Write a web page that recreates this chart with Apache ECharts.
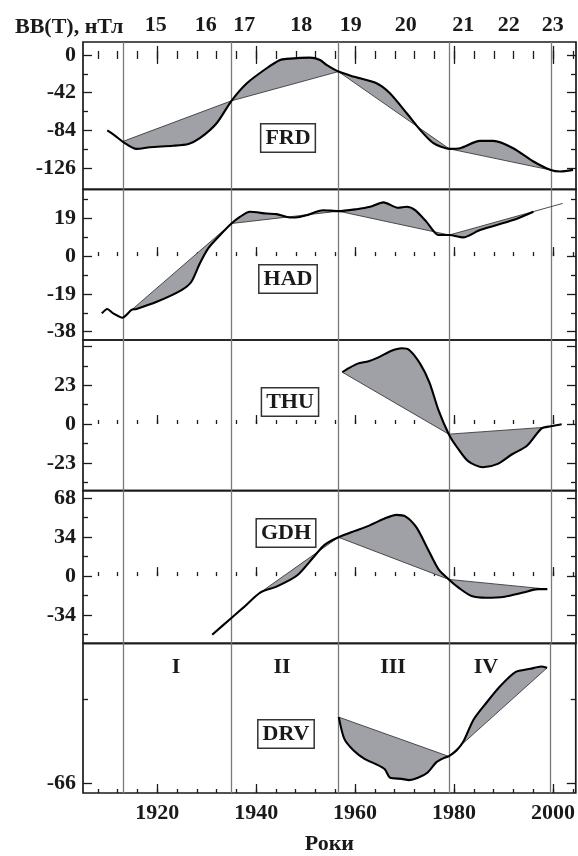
<!DOCTYPE html>
<html>
<head>
<meta charset="utf-8">
<script src="https://cdn.jsdelivr.net/npm/echarts@6/dist/echarts.min.js"></script>
<style>
html, body { margin: 0; padding: 0; background: #fff; }
#chart { width: 578px; height: 856px; }
</style>
</head>
<body>
<div id="chart"></div>
<script>
// boundaries between pairs of solar cycles (vertical lines)
const boundaryYears = [1913.1, 1935, 1956.6, 1979, 1999.5]
// solar cycle numbers on the top axis and where they sit
const cycleNumbers = [15, 16, 17, 18, 19, 20, 21, 22, 23]
const cycleYears = [1919.7, 1929.8, 1937.6, 1949.1, 1959.1, 1970.2, 1981.8, 1991.0, 1999.9]
const decadeTicks = [1920, 1940, 1960, 1980, 2000]
const yearTicks = [1908, 1912, 1916, 1920, 1924, 1928, 1932, 1936, 1940, 1944, 1948, 1952, 1956,
    1960, 1964, 1968, 1972, 1976, 1980, 1984, 1988, 1992, 1996, 2000, 2004]
const romanLabels = ['I', 'II', 'III', 'IV']

// FRD
const frdCurve = [[1909.9, -84], [1911.5, -90], [1913, -96.3], [1915.8, -104.4], [1918.5, -102.6],
    [1923.2, -101], [1926.3, -98.9], [1928.6, -92.6], [1932, -75.9], [1935, -51], [1938.1, -31.5],
    [1942.1, -14.8], [1944.8, -5.6], [1946.1, -4.4], [1950.8, -3], [1952.9, -5.6], [1954.2, -11.1],
    [1956.6, -18.5], [1959.6, -24], [1964.3, -31.5], [1967, -42.6], [1970.4, -64.8], [1973.1, -83.3],
    [1975.8, -98.1], [1979, -104.4], [1981.2, -103.7], [1985.2, -95.6], [1987.9, -95.6],
    [1991.9, -103.7], [1996, -118.5], [1999.5, -128], [2001.4, -129.6], [2004, -127.8]]
const frdChord = [[1913, -96.3], [1935, -51], [1956.6, -18.5], [1979, -104.4], [1999.5, -128]]
const frdMajor = [0, -42, -84, -126]
const frdMinor = [-21, -63, -105]

// HAD
const hadCurve = [[1908.8, -28.8], [1909.9, -26.6], [1911.1, -28.8], [1913, -31], [1914.8, -27.1],
    [1915.8, -26.6], [1919.9, -23], [1924.9, -17.1], [1926.9, -12.9], [1928.6, -3.7], [1930.3, 3.9],
    [1932.7, 10.6], [1935, 16.4], [1936.7, 19.7], [1938.7, 22.3], [1942.1, 21.4], [1944.1, 21.1],
    [1946.8, 19.4], [1948.8, 19.7], [1950.2, 20.6], [1953.5, 23.1], [1956.6, 22.6], [1960.3, 23.6],
    [1963, 24.8], [1965.7, 27], [1968.7, 24.3], [1970.4, 24.8], [1972.1, 23.1], [1974.4, 17.2],
    [1976.8, 10.6], [1979, 10.6], [1981.8, 9.4], [1985.2, 13.1], [1991.9, 18.1], [1996, 22.3]]
const hadChord = [[1913, -31], [1935, 16.4], [1956.6, 22.6], [1979, 10.6], [2001.9, 26.5]]
const hadMajor = [19, 0, -19, -38]
const hadMinor = [28.5, 9.5, -9.5, -28.5]

// THU
const thuCurve = [[1957.4, 30.7], [1958.7, 33.1], [1960.5, 35.8], [1962.7, 37.2], [1964.9, 39.8],
    [1967.2, 43.3], [1969.4, 44.9], [1970.9, 43.9], [1973.1, 35.8], [1975, 24.6], [1976.8, 8.4],
    [1978.9, -6], [1980.6, -13.9], [1982.8, -22], [1985.8, -25.6], [1988.8, -23.6], [1991.7, -17.9],
    [1994.7, -12.9], [1997.6, -2.7], [1999.5, -1.3], [2001.7, -0.1]]
const thuChord = [[1957.4, 30.7], [1978.9, -6], [1998, -2]]
const thuMajor = [46, 23, 0, -23]
const thuLabels = [23, 0, -23]
const thuMinor = [34.5, 11.5, -11.5, -34.5]

// GDH
const gdhCurve = [[1931.1, -51.2], [1935.1, -36.1], [1937.5, -27.1], [1940.8, -14.4], [1944.2, -9],
    [1948.3, 0.7], [1951.6, 16.7], [1953.8, 27.3], [1956.6, 33.9], [1959.8, 39.3], [1962.7, 43.9],
    [1965.7, 49.9], [1968.3, 53.5], [1970.2, 52], [1972.4, 42.3], [1974.6, 24.2], [1976.8, 6.1],
    [1978.9, -2.9], [1981, -10.5], [1983.5, -17.4], [1986.5, -18.9], [1990.2, -18], [1993.9, -14.4],
    [1996.9, -11.4], [1998.8, -11.4]]
const gdhChord = [[1940.8, -14.4], [1956.6, 33.9], [1978.9, -2.9], [1998.8, -11.4]]
const gdhMajor = [68, 34, 0, -34]
const gdhMinor = [51, 17, -17, -51]

// DRV
const drvCurve = [[1956.7, -40], [1957.8, -48.5], [1959.7, -53.2], [1961.9, -56.5], [1964.2, -58.6],
    [1966, -60.6], [1967.1, -64], [1969.4, -64.4], [1970.9, -64.9], [1972.7, -64], [1974.6, -62],
    [1976.4, -57.9], [1977.9, -56.2], [1978.9, -55.5], [1980.5, -53.2], [1982, -49.2], [1983.9, -41.1],
    [1986.5, -34.4], [1989.4, -27.6], [1992.4, -22.2], [1995.4, -20.9], [1997.6, -20], [1998.8, -20.5]]
const drvChord = [[1956.7, -40], [1978.9, -55.5], [1998.8, -20.5]]
const drvMajor = [-66]
const drvMinor = [-33]

const panels = [
    { name: 'FRD', curve: frdCurve, chord: frdChord, major: frdMajor, labels: frdMajor, minor: frdMinor, min: -149.4, max: 14.4 },
    { name: 'HAD', curve: hadCurve, chord: hadChord, major: hadMajor, labels: hadMajor, minor: hadMinor, min: -42.2, max: 33.6 },
    { name: 'THU', curve: thuCurve, chord: thuChord, major: thuMajor, labels: thuLabels, minor: thuMinor, min: -39.5, max: 49.8 },
    { name: 'GDH', curve: gdhCurve, chord: gdhChord, major: gdhMajor, labels: gdhMajor, minor: gdhMinor, min: -58.7, max: 74.6 },
    { name: 'DRV', curve: drvCurve, chord: drvChord, major: drvMajor, labels: drvMajor, minor: drvMinor, min: -70, max: -10.8 }
]

// layout
const edges = [42, 189.3, 340, 490.7, 643.3, 793]
const boxCenters = [[288, 138], [288, 279], [290, 402], [286, 533], [286, 734]]
const romanX = [176, 282, 393, 486]
const X_MIN = 1905, X_MAX = 2004.6
const FONT = 'Liberation Serif'
const INK = '#1a1a1a'

const chart = echarts.init(document.getElementById('chart'), null, { renderer: 'canvas' })

const grids = [], xAxes = [], yAxes = [], series = []

function xAxisDef(i, position, ticks, len, labelOpt) {
    return {
        type: 'value', gridIndex: i, position: position, min: X_MIN, max: X_MAX,
        axisLine: { show: false }, splitLine: { show: false },
        axisTick: { show: len > 0, inside: true, length: len, customValues: ticks,
            lineStyle: { color: INK, width: 1.3 } },
        axisLabel: labelOpt || { show: false, customValues: ticks }
    }
}

function yAxisDef(i, p, position, ticks, len, showLabels) {
    return {
        type: 'value', gridIndex: i, position: position, min: p.min, max: p.max,
        axisLine: { show: false }, splitLine: { show: false },
        axisTick: { show: true, inside: true, length: len, customValues: ticks,
            lineStyle: { color: INK, width: 1.3 } },
        axisLabel: showLabels
            ? { show: true, customValues: p.labels, margin: 7, color: INK,
                fontFamily: FONT, fontWeight: 'bold', fontSize: 22 }
            : { show: false, customValues: ticks }
    }
}

function fillSeries(i, curve, chord) {
    const polys = []
    for (let k = 0; k < chord.length - 1; k++) {
        const a = chord[k], b = chord[k + 1]
        const pts = [a]
        curve.forEach(p => { if (p[0] > a[0] && p[0] < b[0]) pts.push(p) })
        pts.push(b)
        polys.push(pts)
    }
    return {
        type: 'custom', xAxisIndex: 2 * i, yAxisIndex: 4 * i, silent: true, z: 1, clip: true,
        data: polys.map(p => p[0]),
        renderItem: (params, api) => ({
            type: 'polygon',
            shape: { points: polys[params.dataIndex].map(p => api.coord(p)) },
            style: { fill: '#a0a0a7', stroke: null }
        })
    }
}

panels.forEach((p, i) => {
    grids.push({
        left: 83, right: 2, top: edges[i], height: edges[i + 1] - edges[i],
        show: true, borderColor: INK, borderWidth: 1.7, backgroundColor: 'transparent'
    })
    const isLast = i === panels.length - 1
    xAxes.push(xAxisDef(i, 'bottom', yearTicks, 4))
    xAxes.push(xAxisDef(i, 'bottom', decadeTicks, 9, isLast ? {
        show: true, customValues: decadeTicks, margin: 9, color: INK,
        fontFamily: FONT, fontWeight: 'bold', fontSize: 22,
        formatter: v => String(v)
    } : null))
    if (isLast) {
        Object.assign(xAxes[xAxes.length - 1], {
            name: 'Роки', nameLocation: 'middle', nameGap: 40,
            nameTextStyle: { color: INK, fontFamily: FONT, fontWeight: 'bold', fontSize: 22 }
        })
    }
    yAxes.push(yAxisDef(i, p, 'left', p.major, 9, true))
    yAxes.push(yAxisDef(i, p, 'left', p.minor, 5, false))
    yAxes.push(yAxisDef(i, p, 'right', p.major, 9, false))
    yAxes.push(yAxisDef(i, p, 'right', p.minor, 5, false))

    series.push(fillSeries(i, p.curve, p.chord))
    series.push({
        type: 'line', xAxisIndex: 2 * i, yAxisIndex: 4 * i, data: p.chord, silent: true,
        symbol: 'none', z: 2, lineStyle: { color: '#3a3a3a', width: 0.9 },
        markLine: {
            silent: true, symbol: 'none', animation: false, z: 0,
            label: { show: false },
            lineStyle: { color: '#7a7a7a', width: 1.3, type: 'solid' },
            data: boundaryYears.map(y => ({ xAxis: y }))
        }
    })
    series.push({
        type: 'line', xAxisIndex: 2 * i, yAxisIndex: 4 * i, data: p.curve, silent: true,
        symbol: 'none', smooth: 0.25, z: 3, lineStyle: { color: '#000', width: 2.1 }
    })
})

// top axis of the first panel: ticks and solar cycle numbers
xAxes.push(xAxisDef(0, 'top', yearTicks, 4))
xAxes.push(xAxisDef(0, 'top', decadeTicks, 9))
xAxes.push({
    type: 'value', gridIndex: 0, position: 'top', min: X_MIN, max: X_MAX,
    axisLine: { show: false }, splitLine: { show: false }, axisTick: { show: false },
    axisLabel: {
        show: true, customValues: cycleYears, margin: 6, color: INK,
        fontFamily: FONT, fontWeight: 'bold', fontSize: 22,
        formatter: v => String(cycleNumbers[cycleYears.indexOf(v)])
    }
})

const graphics = []
panels.forEach((p, i) => {
    graphics.push({
        type: 'text', x: boxCenters[i][0], y: boxCenters[i][1], z: 10,
        style: {
            text: p.name, font: 'bold 22px "' + FONT + '"', fill: INK,
            align: 'center', verticalAlign: 'middle',
            backgroundColor: '#fff', borderColor: '#333', borderWidth: 1.5,
            padding: [3, 4, 2, 4]
        }
    })
})
romanLabels.forEach((t, k) => {
    graphics.push({
        type: 'text', x: romanX[k], y: 667, z: 10,
        style: { text: t, font: 'bold 22px "' + FONT + '"', fill: INK, align: 'center', verticalAlign: 'middle' }
    })
})

chart.setOption({
    animation: false,
    backgroundColor: '#fff',
    title: {
        text: 'BB(T), нТл', left: 10, top: 11,
        textStyle: { color: INK, fontFamily: FONT, fontWeight: 'bold', fontSize: 22 }
    },
    grid: grids,
    xAxis: xAxes,
    yAxis: yAxes,
    series: series,
    graphic: graphics
})
</script>
</body>
</html>
